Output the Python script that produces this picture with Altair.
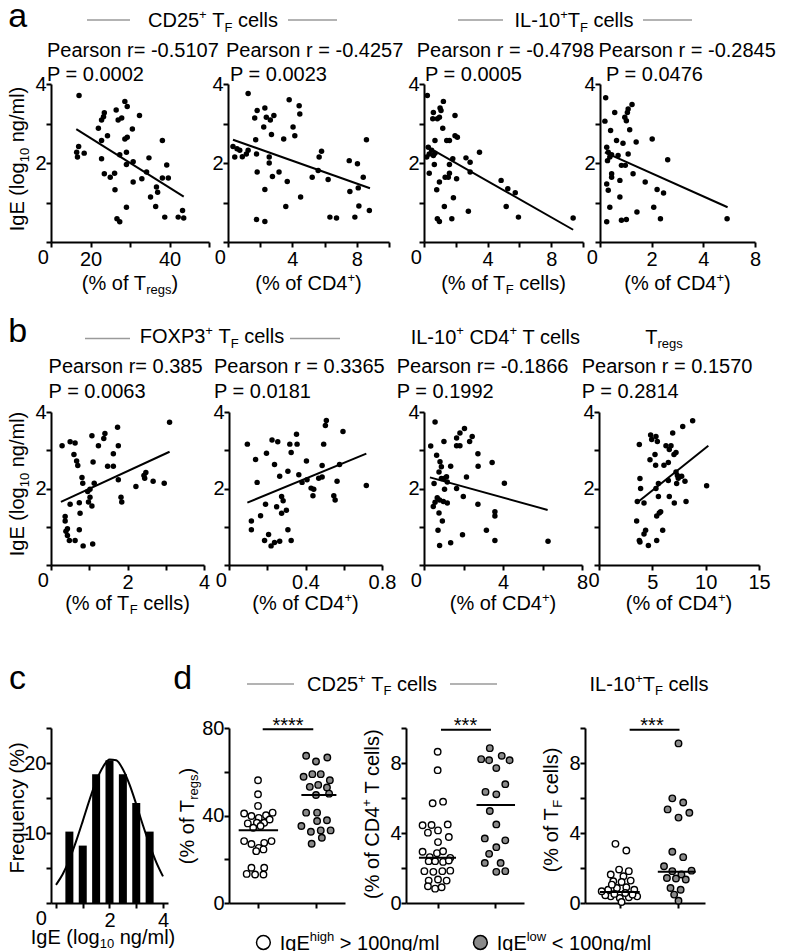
import altair as alt
import pandas as pd

FONT = "Liberation Sans"
BLACK = "#000000"
GREY_LINE = "#9a9a9a"
GREY_FILL = "#8a8a8a"

# ---------------- data ----------------
# panel a
A1_X = [17.1, 17.0, 16.5, 16.7, 18.4, 22.0, 22.8, 23.3, 23.5, 24.3, 22.8, 22.8, 23.5, 25.0, 26.1, 26.2, 26.5, 27.0, 27.9, 28.7,
        29.3, 27.4, 29.1, 28.7, 29.3, 30.6, 29.1, 30.8, 30.8, 32.4, 33.0, 26.7, 27.4, 29.1, 34.2, 34.8, 35.2, 36.5, 36.7, 37.0,
        38.2, 38.2, 39.3, 39.7, 38.8, 42.2, 43.3, 43.6]
A1_Y = [3.71, 2.42, 2.27, 2.15, 2.25, 2.88, 3.09, 3.17, 3.27, 2.69, 2.57, 2.11, 1.73, 1.64, 1.74, 1.32, 3.34, 3.09, 3.14, 3.56,
        3.43, 2.21, 2.27, 2.61, 2.65, 2.86, 1.96, 2.03, 1.52, 3.20, 1.60, 0.59, 0.51, 0.88, 1.77, 2.13, 1.14, 0.90, 1.39, 1.26,
        2.57, 1.62, 1.95, 1.62, 0.63, 0.63, 0.80, 0.61]
A1_LX = [16.4, 43.6]
A1_LY = [2.86, 1.15]

A2_X = [1.25, 0.31, 0.56, 0.73, 1.14, 1.25, 0.42, 0.89, 1.66, 1.81, 1.72, 1.77, 1.81, 1.77, 2.29, 2.29, 2.22, 2.38, 2.63, 2.85,
        2.29, 2.56, 2.56, 2.70, 2.76, 3.17, 3.46, 3.59, 3.68, 3.80, 4.04, 4.15, 4.42, 4.46, 4.51, 5.23, 5.60, 5.66, 5.81, 6.22,
        6.33, 6.74, 7.53, 7.57, 7.88, 8.04, 8.09, 8.13, 8.40, 8.60, 8.78]
A2_Y = [3.76, 2.42, 2.36, 2.32, 2.23, 2.32, 2.15, 2.16, 3.14, 3.33, 2.59, 2.23, 1.77, 0.57, 0.52, 3.39, 2.91, 3.16, 3.09, 3.20,
        1.33, 2.15, 2.00, 2.72, 1.66, 1.77, 2.61, 0.90, 1.53, 3.60, 2.91, 2.69, 3.45, 3.24, 1.14, 1.64, 1.81, 2.15, 2.30, 1.58,
        0.63, 0.61, 2.06, 1.28, 0.63, 1.98, 1.37, 0.91, 1.64, 2.59, 0.80]
A2_LX = [0.31, 8.82]
A2_LY = [2.59, 1.36]

A3_X = [0.27, 0.48, 0.33, 0.59, 0.17, 0.69, 0.21, 0.33, 0.55, 0.59, 0.84, 0.69, 0.65, 0.80, 0.84, 0.97, 0.97, 0.97, 1.01, 1.07,
        1.22, 1.18, 1.33, 1.28, 1.43, 1.60, 1.60, 1.60, 1.53, 1.81, 1.75, 1.85, 1.95, 1.95, 2.10, 2.05, 2.64, 2.79, 2.90, 2.90,
        3.49, 4.85, 5.17, 5.27, 5.74, 5.94, 9.38]
A3_Y = [2.40, 2.32, 2.23, 2.19, 2.15, 2.25, 3.71, 1.74, 3.12, 3.28, 3.12, 2.57, 1.96, 1.32, 0.59, 0.52, 1.52, 3.16, 3.39, 3.33,
        3.56, 2.88, 1.64, 0.90, 2.57, 2.57, 1.96, 1.74, 1.64, 2.11, 0.59, 1.12, 3.20, 2.69, 2.65, 1.60, 2.13, 0.78, 2.02, 1.77,
        2.27, 1.56, 0.90, 1.35, 1.25, 0.63, 0.61]
A3_LX = [0.13, 9.38]
A3_LY = [2.43, 0.31]

A4_X = [0.22, 0.19, 0.41, 0.57, 0.64, 0.70, 0.77, 0.89, 0.83, 0.98, 0.96, 1.02, 1.06, 1.09, 1.24, 0.83, 1.02, 1.09, 1.15, 1.28,
        1.40, 1.43, 0.77, 1.75, 2.02, 2.08, 2.21, 2.34, 2.46, 2.62, 4.92, 0.26, 0.32, 0.38, 0.45, 0.29, 0.26, 0.32, 0.38, 0.26,
        0.45, 0.45]
A4_Y = [3.65, 3.06, 2.82, 3.28, 2.57, 2.19, 1.14, 2.50, 1.94, 1.94, 3.16, 3.07, 3.28, 3.37, 3.48, 0.55, 0.57, 2.23, 2.84, 1.73,
        2.53, 0.76, 1.56, 1.52, 2.61, 0.88, 1.33, 0.59, 1.24, 2.08, 0.59, 2.40, 2.27, 2.15, 2.21, 2.06, 1.47, 1.31, 0.88, 0.51,
        1.73, 1.64]
A4_LX = [0.19, 4.94]
A4_LY = [2.27, 0.88]

# panel b
B1_X = [0.29, 0.50, 0.63, 0.60, 0.67, 0.70, 0.37, 0.37, 0.39, 0.43, 0.48, 0.43, 0.63, 0.50, 0.74, 0.76, 0.74, 0.84, 0.81, 0.83,
        0.96, 1.02, 0.98, 1.02, 1.07, 1.10, 1.07, 1.13, 1.09, 1.24, 1.38, 1.41, 1.48, 1.63, 1.63, 1.74, 1.76, 1.76, 1.83, 1.85,
        2.22, 2.43, 2.48, 2.45, 2.67, 2.96, 3.10]
B1_Y = [3.12, 3.22, 3.19, 2.89, 2.72, 2.60, 1.27, 1.15, 0.88, 0.77, 0.64, 0.95, 0.64, 1.59, 1.63, 1.35, 0.92, 0.50, 2.29, 2.14,
        1.92, 1.98, 1.65, 1.77, 1.54, 2.69, 3.38, 2.14, 0.55, 3.12, 3.31, 3.44, 2.58, 2.58, 2.91, 3.60, 3.12, 2.23, 1.77, 1.65,
        2.05, 2.34, 2.42, 2.27, 2.19, 2.14, 3.73]
B1_LX = [0.26, 3.10]
B1_LY = [1.65, 2.96]

B2_X = [0.096, 0.139, 0.147, 0.117, 0.117, 0.165, 0.191, 0.196, 0.186, 0.207, 0.220, 0.238, 0.265, 0.225, 0.255, 0.238, 0.249,
        0.265, 0.275, 0.283, 0.275, 0.300, 0.308, 0.308, 0.318, 0.325, 0.325, 0.353, 0.356, 0.365, 0.382, 0.405, 0.408, 0.429,
        0.439, 0.443, 0.469, 0.487, 0.495, 0.504, 0.509, 0.487, 0.548, 0.555, 0.565, 0.578, 0.596, 0.718]
B2_Y = [3.16, 2.76, 2.16, 1.15, 0.92, 1.29, 1.59, 2.92, 0.64, 0.80, 0.50, 0.59, 0.62, 3.27, 3.22, 2.63, 1.52, 2.32, 1.79, 1.68,
        1.35, 1.43, 2.45, 0.92, 3.16, 2.94, 0.64, 3.42, 3.16, 2.36, 2.16, 2.72, 2.23, 2.01, 1.81, 1.98, 2.27, 2.30, 3.16, 3.65,
        3.78, 2.60, 1.81, 1.70, 2.19, 2.63, 3.49, 2.08]
B2_LX = [0.096, 0.718]
B2_LY = [1.63, 2.91]

B3_X = [0.56, 0.34, 0.64, 0.81, 0.88, 1.35, 1.01, 0.51, 0.76, 0.88, 1.01, 1.14, 1.18, 1.04, 0.47, 0.56, 0.67, 0.79, 0.98, 1.18,
        0.76, 0.93, 0.71, 0.79, 1.35, 1.65, 1.65, 1.82, 1.82, 2.05, 2.31, 2.44, 1.65, 2.15, 1.99, 1.95, 2.73, 2.74, 2.73, 3.45,
        3.16, 3.59, 3.59, 3.59, 4.07, 6.28]
B3_Y = [3.74, 3.11, 2.87, 2.70, 2.57, 2.58, 3.23, 2.13, 2.43, 2.26, 2.26, 2.31, 2.17, 1.98, 1.53, 1.64, 1.76, 1.70, 1.66, 1.62,
        1.36, 1.15, 0.91, 0.51, 0.58, 3.32, 3.12, 3.12, 3.45, 3.57, 3.23, 3.36, 2.00, 2.30, 1.79, 0.79, 2.91, 2.58, 1.59, 2.68,
        0.91, 1.39, 1.28, 0.64, 2.14, 0.62]
B3_LX = [0.30, 6.26]
B3_LY = [2.29, 1.44]

B4_X = [3.53, 3.59, 3.78, 3.84, 3.90, 3.78, 3.84, 4.22, 4.22, 4.37, 4.63, 4.78, 4.84, 4.94, 5.25, 5.31, 5.34, 5.47, 5.34, 5.41,
        5.41, 5.57, 5.57, 5.65, 5.78, 5.97, 6.09, 6.28, 6.50, 6.59, 6.59, 6.75, 6.91, 7.03, 7.06, 7.22, 7.35, 7.22, 7.43, 7.28,
        7.75, 7.85, 8.06, 8.16, 8.78, 10.09, 6.50]
B4_Y = [1.15, 1.66, 3.15, 2.26, 2.00, 0.64, 0.60, 1.62, 0.81, 0.91, 0.51, 2.75, 3.40, 3.28, 2.89, 2.61, 3.36, 3.23, 2.00, 1.28,
        0.64, 1.79, 2.13, 1.36, 1.39, 0.91, 2.61, 3.12, 2.68, 3.02, 1.79, 3.12, 3.45, 2.89, 1.62, 2.43, 2.34, 2.94, 2.27, 2.13,
        2.32, 3.62, 2.19, 1.66, 3.77, 2.07, 2.21]
B4_LX = [3.53, 10.25]
B4_LY = [1.62, 3.12]

# panel c
HIST_BIN = [0.5, 1.0, 1.5, 2.0, 2.5, 3.0, 3.5]
HIST_FREQ = [10.2, 8.2, 18.4, 20.4, 18.4, 14.3, 10.2]
FIT_X = [0.0, 0.25, 0.5, 0.75, 1.0, 1.25, 1.5, 1.75, 2.0, 2.25, 2.5, 2.75, 3.0, 3.25, 3.5, 3.75, 4.0]
FIT_Y = [2.6, 4.1, 6.2, 8.8, 11.7, 14.7, 17.4, 19.4, 20.5, 20.4, 19.1, 16.9, 14.1, 11.1, 8.3, 5.8, 3.8]

# panel d  (x: 1 = IgE high group, 2 = IgE low group)
D1H_X = [1.0, 1.0, 1.0, 0.761, 1.252, 0.887, 1.013, 1.138, 0.824, 0.981, 1.107, 1.201, 0.918, 1.044, 0.761, 0.887, 1.013,
         1.107, 1.233, 0.969, 1.094, 0.887, 1.107, 0.805, 0.950, 1.094]
D1H_Y = [56.1, 49.7, 44.4, 40.9, 41.3, 39.8, 38.9, 40.1, 36.4, 36.7, 36.7, 38.2, 34.4, 35.2, 28.3, 27.0, 25.2, 27.5, 28.3,
         23.7, 24.5, 16.1, 16.1, 13.3, 13.0, 13.0]
D1L_X = [1.830, 2.0, 2.195, 1.786, 1.937, 2.082, 2.239, 1.893, 2.038, 2.189, 2.0, 2.226, 1.830, 2.019, 2.189, 1.748, 2.019,
         1.912, 2.082, 2.252, 1.925, 2.101]
D1L_Y = [67.3, 64.7, 66.5, 57.7, 58.9, 58.9, 56.1, 53.1, 54.0, 52.8, 49.4, 50.0, 41.3, 41.3, 37.8, 35.2, 37.5, 32.6, 33.2,
         33.2, 27.1, 29.8]
D1_MED_X1 = [0.667, 1.748]
D1_MED_X2 = [1.346, 2.352]
D1_MED_Y = [33.3, 49.4]
D1_SIG = [1.081, 1.953, 79.4]

D2H_X = [1.0, 1.0, 0.913, 1.094, 0.738, 0.894, 1.175, 0.831, 1.006, 1.194, 1.006, 0.738, 0.863, 0.988, 1.094, 1.219, 0.844,
         0.956, 1.094, 1.194, 0.769, 0.925, 1.081, 1.219, 0.844, 1.006, 1.156, 0.831, 0.956, 1.069]
D2H_Y = [8.64, 7.59, 5.70, 5.79, 4.44, 4.46, 4.49, 4.02, 4.15, 3.77, 3.48, 2.93, 2.62, 2.85, 2.96, 2.58, 2.39, 2.39, 2.35,
         2.43, 1.82, 1.78, 1.82, 1.85, 1.28, 1.34, 1.28, 0.96, 0.82, 0.90]
D2L_X = [1.906, 1.756, 1.894, 2.113, 2.25, 2.019, 2.175, 1.831, 2.019, 1.906, 2.019, 1.819, 2.175, 2.019, 1.894, 1.819, 2.094,
         2.019, 2.175]
D2L_Y = [8.85, 8.22, 8.16, 8.41, 8.16, 7.71, 6.79, 6.35, 6.21, 5.26, 4.49, 3.69, 3.58, 3.19, 2.81, 2.29, 2.29, 1.78, 1.82]
D2_MED_X1 = [0.675, 1.675]
D2_MED_X2 = [1.319, 2.344]
D2_MED_Y = [2.58, 5.60]
D2_SIG = [1.058, 1.926, 9.9]

D3H_X = [0.925, 1.113, 0.844, 0.988, 1.156, 1.063, 0.888, 1.031, 1.188, 0.800, 0.950, 1.113, 1.250, 0.844, 1.000, 1.156,
         0.906, 1.300, 0.750, 1.031, 1.094, 0.688, 1.219, 0.863]
D3H_Y = [3.38, 3.00, 1.63, 1.91, 1.82, 1.53, 1.24, 1.20, 1.28, 0.76, 0.86, 0.90, 0.76, 0.38, 0.29, 0.33, 0.52, 0.38, 0.44,
         0.06, 0.57, 0.67, 0.48, 1.05]
D3L_X = [2.013, 1.906, 2.094, 1.825, 2.200, 2.013, 1.906, 2.094, 1.763, 1.906, 2.063, 2.238, 1.813, 1.969, 2.138, 1.875,
         2.050, 1.938, 2.013]
D3L_Y = [9.12, 5.98, 5.74, 5.35, 5.16, 4.88, 2.93, 2.62, 2.10, 1.82, 1.63, 1.85, 1.43, 1.40, 1.34, 0.86, 0.76, 0.48, 0.13]
D3_MED_X1 = [0.656, 1.656]
D3_MED_X2 = [1.344, 2.31]
D3_MED_Y = [0.63, 1.78]
D3_SIG = [1.17, 2.03, 9.9]

# ---------------- text helpers ----------------
ONE = pd.DataFrame({"k": [0]})
CW = {' ': 278, '!': 278, '%': 889, '(': 333, ')': 333, '*': 389, '+': 584, ',': 278, '-': 333, '.': 278, '/': 278,
      '0': 556, '1': 556, '2': 556, '3': 556, '4': 556, '5': 556, '6': 556, '7': 556, '8': 556, '9': 556,
      '<': 584, '=': 584, '>': 584,
      'A': 667, 'B': 667, 'C': 722, 'D': 722, 'E': 667, 'F': 611, 'G': 778, 'H': 722, 'I': 278, 'J': 500, 'K': 667,
      'L': 556, 'M': 833, 'N': 722, 'O': 778, 'P': 667, 'Q': 778, 'R': 722, 'S': 667, 'T': 611, 'U': 722, 'V': 667,
      'W': 944, 'X': 667, 'Y': 667, 'Z': 611,
      'a': 556, 'b': 556, 'c': 500, 'd': 556, 'e': 556, 'f': 278, 'g': 556, 'h': 556, 'i': 222, 'j': 222, 'k': 500,
      'l': 222, 'm': 833, 'n': 556, 'o': 556, 'p': 556, 'q': 556, 'r': 333, 's': 500, 't': 278, 'u': 556, 'v': 500,
      'w': 722, 'x': 500, 'y': 500, 'z': 500}


def tw(s, size):
    return sum(CW.get(c, 556) for c in s) * size / 1000.0


def rich(segs, x, y, size=20, anchor="left", angle=0, color=BLACK):
    parts = []
    for t, k in segs:
        if k == "sub":
            parts.append((t, round(size * 0.65, 2), round(size * 0.22, 2)))
        elif k == "sup":
            parts.append((t, round(size * 0.65, 2), round(-size * 0.42, 2)))
        else:
            parts.append((t, size, 0))
    total = sum(tw(t, s) for t, s, _ in parts)
    off = {"left": 0.0, "center": -total / 2.0, "right": -total}[anchor]
    layers = []
    for t, s, d in parts:
        stripped = t.lstrip(" ")
        off += tw(t[: len(t) - len(stripped)], s)
        kw = dict(text=stripped, align="left", baseline="alphabetic", fontSize=s, font=FONT,
                  color=color, dx=round(off, 2), dy=d)
        if angle:
            kw["angle"] = angle
        layers.append(alt.Chart(ONE).mark_text(**kw).encode(x=alt.value(x), y=alt.value(y)))
        off += tw(stripped, s)
    return layers


def plain(t, x, y, anchor="left", size=20):
    return rich([(t, "n")], x, y, size=size, anchor=anchor)


def letter(t, x, y):
    return [alt.Chart(ONE).mark_text(text=t, fontSize=34, font=FONT, align="left", baseline="top",
                                     color=BLACK).encode(x=alt.value(x), y=alt.value(y))]


def gline(x1, x2, y):
    return [alt.Chart(ONE).mark_rule(color=GREY_LINE, strokeWidth=1.3).encode(
        x=alt.value(x1), x2=alt.value(x2), y=alt.value(y))]


def axis(values, show=None, expr=None, pad=2):
    if expr is None:
        if show:
            expr = "(" + " || ".join("datum.value == %s" % v for v in show) + ") ? datum.label : ''"
        else:
            expr = "''"
    return alt.Axis(values=values, labelExpr=expr, title=None, grid=False, domain=True, domainColor=BLACK,
                    domainWidth=2, ticks=True, tickColor=BLACK, tickWidth=2, tickSize=5, labelColor=BLACK,
                    labelFont=FONT, labelFontSize=20, labelPadding=pad, labelFlush=False, labelOverlap=False)


def spacer(w, h):
    return alt.Chart(ONE).mark_point(opacity=0).encode(
        x=alt.value(0), y=alt.value(0)).properties(width=w, height=h)


IGE = [("IgE (log", "n"), ("10", "sub"), (" ng/ml)", "n")]
T_REGS = [("(% of T", "n"), ("regs", "sub"), (")", "n")]
CD4 = [("(% of CD4", "n"), ("+", "sup"), (")", "n")]
TF = [("(% of T", "n"), ("F", "sub"), (" cells)", "n")]
G_CD25 = [("CD25", "n"), ("+", "sup"), (" T", "n"), ("F", "sub"), (" cells", "n")]
G_IL10 = [("IL-10", "n"), ("+", "sup"), ("T", "n"), ("F", "sub"), (" cells", "n")]
G_FOXP3 = [("FOXP3", "n"), ("+", "sup"), (" T", "n"), ("F", "sub"), (" cells", "n")]
G_IL10CD4 = [("IL-10", "n"), ("+", "sup"), (" CD4", "n"), ("+", "sup"), (" T cells", "n")]
G_TREGS = [("T", "n"), ("regs", "sub")]


def scatter(xs, ys, lx, ly, xdom, xvals, w, h, ann, xshow=None, xexpr=None):
    X = alt.X("x:Q", scale=alt.Scale(domain=xdom, nice=False, zero=False), axis=axis(xvals, xshow, xexpr))
    Y = alt.Y("y:Q", scale=alt.Scale(domain=[0, 4], nice=False, zero=False),
              axis=axis([0, 1, 2, 3, 4], [2, 4], pad=0))
    pts = alt.Chart(pd.DataFrame({"x": xs, "y": ys})).mark_circle(size=30, color=BLACK, opacity=1).encode(x=X, y=Y)
    fit = alt.Chart(pd.DataFrame({"x": lx, "y": ly})).mark_line(color=BLACK, strokeWidth=2).encode(x=X, y=Y)
    return alt.layer(pts, fit, *ann).properties(width=w, height=h)


def corner0(h, x=-7.7):
    return plain("0", x, h + 22, anchor="center")


TOP_CLIP = 9  # blank strip above the panel letter that is cut away by a negative top padding

# ---------------- row a ----------------
HA = 158
a1 = scatter(A1_X, A1_Y, A1_LX, A1_LY, [10, 50], [10, 20, 30, 40, 50], 158, HA,
             letter("a", -42.7, -75.3 - TOP_CLIP) + rich(G_CD25, 162, -56.6, anchor="center")
             + gline(36, 79, -64) + gline(237, 286, -64)
             + plain("Pearson r= -0.5107", -4, -26.6) + plain("P = 0.0002", -4, -3.3)
             + rich(IGE, -26.7, 75, anchor="center", angle=270)
             + corner0(HA) + rich(T_REGS, 79, HA + 48, anchor="center"),
             xshow=[20, 40])
a2 = scatter(A2_X, A2_Y, A2_LX, A2_LY, [0, 10], [0, 2, 4, 6, 8, 10], 161, HA,
             plain("Pearson r = -0.4257", -2, -26.6) + plain("P = 0.0023", 2, -3.3)
             + corner0(HA) + rich(CD4, 80.5, HA + 48, anchor="center"),
             xshow=[4, 8])
a3 = scatter(A3_X, A3_Y, A3_LX, A3_LY, [0, 10], [0, 2, 4, 6, 8, 10], 159, HA,
             rich(G_IL10, 150, -56.6, anchor="center") + gline(34, 79, -64) + gline(219, 268, -64)
             + plain("Pearson r = -0.4798", -7.3, -26.6) + plain("P = 0.0005", 1, -3.3)
             + corner0(HA) + rich(TF, 79.5, HA + 48, anchor="center"),
             xshow=[4, 8])
a4 = scatter(A4_X, A4_Y, A4_LX, A4_LY, [0, 6], [0, 2, 4, 6], 155, HA,
             plain("Pearson r = -0.2845", -1.5, -26.6) + plain("P = 0.0476", 6, -3.3)
             + corner0(HA) + rich(CD4, 77.5, HA + 48, anchor="center"),
             xexpr="datum.value == 2 ? '2' : datum.value == 4 ? '4' : datum.value == 6 ? '8' : ''")

# ---------------- row b ----------------
HB = 153
b1 = scatter(B1_X, B1_Y, B1_LX, B1_LY, [0, 4], [0, 1, 2, 3, 4], 153, HB,
             letter("b", -42.7, -96.9) + rich(G_FOXP3, 161, -68.7, anchor="center")
             + gline(34, 79, -73.5) + gline(239, 289, -73.5)
             + plain("Pearson r= 0.385", -2.4, -39) + plain("P = 0.0063", -2.4, -14)
             + rich(IGE, -26.7, 72, anchor="center", angle=270)
             + corner0(HB) + rich(TF, 76.5, HB + 45, anchor="center"),
             xshow=[2, 4])
b2 = scatter(B2_X, B2_Y, B2_LX, B2_LY, [0, 0.8], [0, 0.2, 0.4, 0.6, 0.8], 153, HB,
             plain("Pearson r = 0.3365", -15, -39) + plain("P = 0.0181", -15, -14)
             + corner0(HB) + rich(CD4, 76.5, HB + 45, anchor="center"),
             xshow=[0.4, 0.8])
b3 = scatter(B3_X, B3_Y, B3_LX, B3_LY, [0, 8], [0, 2, 4, 6, 8], 158, HB,
             rich(G_IL10CD4, 71.5, -68.4, anchor="center")
             + plain("Pearson r= -0.1866", -27.3, -39) + plain("P = 0.1992", -27.3, -14)
             + corner0(HB) + rich(CD4, 79, HB + 45, anchor="center"),
             xshow=[4, 8])
b4 = scatter(B4_X, B4_Y, B4_LX, B4_LY, [0, 15], [0, 5, 10, 15], 160, HB,
             rich(G_TREGS, 65, -68.4, anchor="center")
             + plain("Pearson r = 0.1570", -17.3, -39) + plain("P = 0.2814", -17.3, -14)
             + corner0(HB, -5) + rich(CD4, 80, HB + 45, anchor="center"),
             xshow=[5, 10, 15])

# ---------------- row c / d ----------------
HC = 175
Xc = alt.X("x:Q", scale=alt.Scale(domain=[0, 4], nice=False, zero=False), axis=axis([0, 1, 2, 3, 4], [2, 4]))
Yc = alt.Y("y:Q", scale=alt.Scale(domain=[0, 25], nice=False, zero=False),
           axis=axis([0, 5, 10, 15, 20, 25], [10, 20], pad=0))
bars = alt.Chart(pd.DataFrame({"x": HIST_BIN, "y": HIST_FREQ})).mark_bar(size=8, color=BLACK).encode(x=Xc, y=Yc)
curve = alt.Chart(pd.DataFrame({"x": FIT_X, "y": FIT_Y})).mark_line(
    color=BLACK, strokeWidth=2, interpolate="monotone").encode(x=Xc, y=Yc)
c_ann = (letter("c", -42, -66) + rich([("Frequency (%)", "n")], -26.7, 80, anchor="center", angle=270)
         + corner0(HC, -9.7) + rich(IGE, 52, HC + 41, anchor="center"))
cPanel = alt.layer(bars, curve, *c_ann).properties(width=117, height=HC)


def dotplot(hx, hy, lx, ly, mx1, mx2, my, sig, xdom, ydom, yvals, yshow, w, ann):
    X = alt.X("x:Q", scale=alt.Scale(domain=xdom, nice=False, zero=False), axis=axis([1, 2]))
    Y = alt.Y("y:Q", scale=alt.Scale(domain=ydom, nice=False, zero=False), axis=axis(yvals, yshow, pad=0))
    meds = alt.Chart(pd.DataFrame({"x": mx1, "x2": mx2, "y": my})).mark_rule(color=BLACK, strokeWidth=2).encode(
        x=X, x2="x2:Q", y=Y)
    sigbar = alt.Chart(pd.DataFrame({"x": [sig[0]], "x2": [sig[1]], "y": [sig[2]]})).mark_rule(
        color=BLACK, strokeWidth=2).encode(x=X, x2="x2:Q", y=Y)
    hi = alt.Chart(pd.DataFrame({"x": hx, "y": hy})).mark_point(
        shape="circle", filled=True, fill="white", stroke=BLACK, strokeWidth=1.4, size=42, opacity=1).encode(x=X, y=Y)
    lo = alt.Chart(pd.DataFrame({"x": lx, "y": ly})).mark_point(
        shape="circle", filled=True, fill=GREY_FILL, stroke=BLACK, strokeWidth=1.4, size=42, opacity=1).encode(x=X, y=Y)
    return alt.layer(hi, lo, meds, sigbar, *ann).properties(width=w, height=HC)


LEG_Y = 221.5
legend = [
    alt.Chart(ONE).mark_point(shape="circle", filled=True, fill="white", stroke=BLACK, strokeWidth=1.5,
                              size=190, opacity=1).encode(x=alt.value(34.4), y=alt.value(LEG_Y - 7)),
    alt.Chart(ONE).mark_point(shape="circle", filled=True, fill=GREY_FILL, stroke=BLACK, strokeWidth=1.5,
                              size=190, opacity=1).encode(x=alt.value(251.4), y=alt.value(LEG_Y - 7)),
]
legend += rich([("IgE", "n"), ("high", "sup"), (" > 100ng/ml", "n")], 50.7, LEG_Y)
legend += rich([("IgE", "n"), ("low", "sup"), (" < 100ng/ml", "n")], 267.7, LEG_Y)

d1 = dotplot(D1H_X, D1H_Y, D1L_X, D1L_Y, D1_MED_X1, D1_MED_X2, D1_MED_Y, D1_SIG,
             [0.5, 2.5], [0, 80], [0, 20, 40, 60, 80], [0, 40, 80], 116,
             letter("d", -55.7, -66) + rich(G_CD25, 143, -37, anchor="center")
             + gline(18, 65, -44) + gline(221, 268, -44)
             + plain("****", 59, 4.3, anchor="center")
             + rich(T_REGS, -35, 88, anchor="center", angle=270) + legend)
d2 = dotplot(D2H_X, D2H_Y, D2L_X, D2L_Y, D2_MED_X1, D2_MED_X2, D2_MED_Y, D2_SIG,
             [0.45, 2.5], [0, 10], [0, 2, 4, 6, 8, 10], [0, 4, 8], 118,
             plain("***", 59.5, 4.3, anchor="center")
             + rich([("(% of CD4", "n"), ("+", "sup"), (" T cells)", "n")], -27, 86, anchor="center", angle=270))
d3 = dotplot(D3H_X, D3H_Y, D3L_X, D3L_Y, D3_MED_X1, D3_MED_X2, D3_MED_Y, D3_SIG,
             [0.4, 2.47], [0, 10], [0, 2, 4, 6, 8, 10], [0, 4, 8], 120,
             rich(G_IL10, 64, -37, anchor="center")
             + plain("***", 67, 4.3, anchor="center")
             + rich(TF, -27, 82, anchor="center", angle=270))

# ---------------- layout: rows are flush hconcats with spacer cells ----------------
rowA = alt.hconcat(a1, spacer(19, HA), a2, spacer(35, HA), a3, spacer(17, HA), a4, spacing=0, bounds="flush")
rowB = alt.hconcat(b1, spacer(25, HB), b2, spacer(42, HB), b3, spacer(17, HB), b4, spacing=0, bounds="flush")
rowCD = alt.hconcat(cPanel, spacer(61, HC), d1, spacer(61, HC), d2, spacer(61, HC), d3, spacing=0, bounds="flush")

chart = alt.vconcat(rowA, alt.vconcat(rowB, rowCD, spacing=44), spacing=17)
chart = chart.properties(padding={"top": -TOP_CLIP, "left": 0, "right": 0, "bottom": 0},
                         background="white").configure_view(stroke=None)

chart.save("out.html", embed_options={"renderer": "svg", "actions": False})
